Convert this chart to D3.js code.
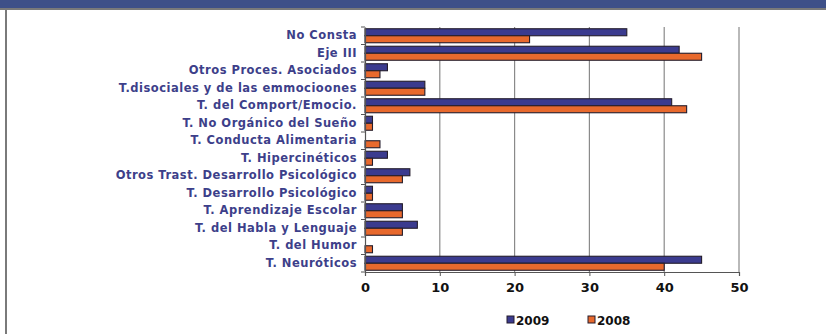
<!DOCTYPE html>
<html><head><meta charset="utf-8">
<script src="https://cdn.jsdelivr.net/npm/d3@7/dist/d3.min.js"></script>
<style>body{margin:0;background:#fff}svg{display:block}</style>
</head><body><svg id="c" width="826" height="334"></svg>
<script>
const categories = ["No Consta","Eje III","Otros Proces. Asociados","T.disociales y de las emmocioones","T. del Comport/Emocio.","T. No Orgánico del Sueño","T. Conducta Alimentaria","T. Hipercinéticos","Otros Trast. Desarrollo Psicológico","T. Desarrollo Psicológico","T. Aprendizaje Escolar","T.  del Habla y Lenguaje","T. del Humor","T. Neuróticos"];
const values2009 = [35,42,3,8,41,1,0,3,6,1,5,7,0,45];
const values2008 = [22,45,2,8,43,1,2,1,5,1,5,5,1,40];
const seriesNames = ["2009","2008"];
const xTicks = [0,10,20,30,40,50];
const colors = ["#3b3b8f","#e8692d"];

const svg = d3.select("#c");
// frame
svg.append("rect").attr("x",0).attr("y",0).attr("width",826).attr("height",8).attr("fill","#3e5088");
svg.append("rect").attr("x",0).attr("y",8).attr("width",826).attr("height",2).attr("fill","#7a7a7a");
svg.append("rect").attr("x",5).attr("y",8).attr("width",2).attr("height",326).attr("fill","#7a7a7a");

const pL=365, pR=739, pT=27, pB=272;
const x = d3.scaleLinear().domain([0,50]).range([pL,pR]);
const y = d3.scaleBand().domain(categories).range([pT,pB]).paddingInner(0.2).paddingOuter(0.1);
const y2 = d3.scaleBand().domain(seriesNames).range([0,y.bandwidth()]);

// gridlines
svg.append("g").selectAll("line").data(xTicks.slice(1)).join("line")
  .attr("x1",d=>x(d)).attr("x2",d=>x(d)).attr("y1",pT).attr("y2",pB)
  .attr("stroke","#8a8a8a").attr("stroke-width",1.2);

const data = categories.map((c,i)=>({c, v:[values2009[i],values2008[i]]}));
const g = svg.append("g");
data.forEach(d=>{
  d.v.forEach((v,j)=>{
    if(v<=0) return;
    g.append("rect").attr("x",x(0)).attr("y",y(d.c)+y2(seriesNames[j]))
      .attr("width",x(v)-x(0)).attr("height",y2.bandwidth())
      .attr("fill",colors[j]).attr("stroke","#241d2c").attr("stroke-width",1.1);
  });
});

// y axis
const ya = d3.scaleBand().domain(categories).range([pT,pB]);
const yAxis = svg.append("g").attr("transform",`translate(${pL},0)`)
  .call(d3.axisLeft(ya).tickSize(0).tickPadding(8));
yAxis.select(".domain").attr("stroke","#555").attr("stroke-width",1.2);
yAxis.selectAll("text").attr("font-family","DejaVu Sans").attr("font-weight","bold")
  .attr("font-size","11.5px").attr("letter-spacing","0.5px").attr("fill","#3d3f8a");
// category boundary ticks
svg.append("g").selectAll("line").data(d3.range(categories.length+1)).join("line")
  .attr("x1",pL-4).attr("x2",pL).attr("y1",i=>pT+i*ya.step()).attr("y2",i=>pT+i*ya.step())
  .attr("stroke","#555");

// x axis
const xAxis = svg.append("g").attr("transform",`translate(0,${pB})`)
  .call(d3.axisBottom(x).tickValues(xTicks).tickSize(4).tickPadding(7));
xAxis.select(".domain").attr("stroke","#555").attr("stroke-width",1.2);
xAxis.selectAll("line").attr("stroke","#555");
xAxis.selectAll("text").attr("font-family","DejaVu Sans").attr("font-weight","bold")
  .attr("font-size","13px").attr("fill","#111");

// legend
const lg = svg.append("g");
const lx = [507,588];
seriesNames.forEach((s,j)=>{
  lg.append("rect").attr("x",lx[j]).attr("y",316).attr("width",7).attr("height",7)
    .attr("fill",colors[j]).attr("stroke","#241d2c").attr("stroke-width",1);
  lg.append("text").attr("x",lx[j]+9).attr("y",325).text(s)
    .attr("font-family","DejaVu Sans").attr("font-weight","bold").attr("font-size","12px").attr("fill","#111");
});
</script></body></html>
